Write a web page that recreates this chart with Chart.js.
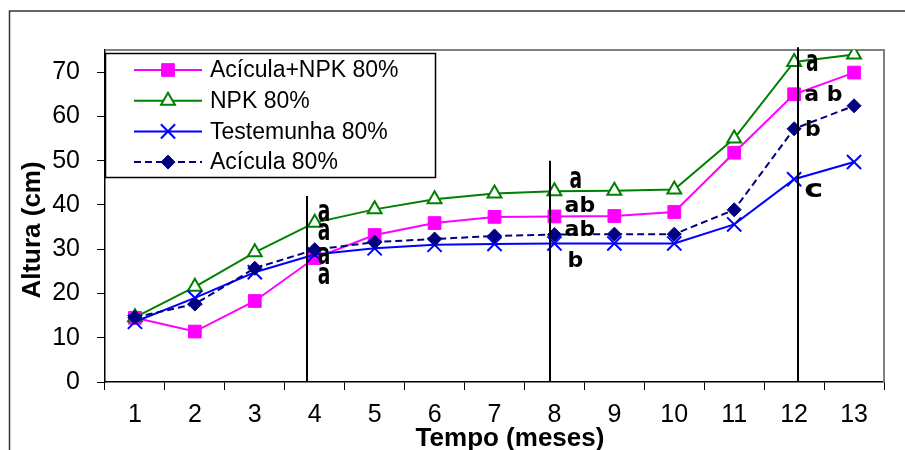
<!DOCTYPE html>
<html>
<head>
<meta charset="utf-8">
<script src="https://cdn.jsdelivr.net/npm/chart.js"></script>
<style>
  html, body { margin: 0; padding: 0; background: #fff; }
</style>
</head>
<body>
<canvas id="line-chart" width="905" height="450"></canvas>
<script>
var meses = ["1", "2", "3", "4", "5", "6", "7", "8", "9", "10", "11", "12", "13"];
var aciculaNpk = [14.5, 11.4, 18.3, 28.0, 33.2, 35.9, 37.3, 37.4, 37.5, 38.4, 51.8, 65.0, 69.9];
var npk = [14.6, 21.5, 29.3, 36.0, 39.0, 41.3, 42.6, 43.1, 43.2, 43.5, 55.0, 72.3, 74.0];
var testemunha = [13.6, 19.0, 24.8, 28.8, 30.2, 31.0, 31.2, 31.3, 31.3, 31.3, 35.6, 45.8, 49.7];
var acicula = [14.6, 17.6, 25.7, 29.9, 31.6, 32.3, 33.0, 33.3, 33.4, 33.4, 38.9, 57.2, 62.4];
var yTicks = [0, 10, 20, 30, 40, 50, 60, 70];

// separation lines and mean comparison letters (position in months / cm)
var linhasMes = [3.87, 7.93, 12.07];
var linhasTopo = [42, 50, 75.6];
var letrasTexto = ["a", "a", "a", "a", "a", "ab", "ab", "b", "a", "a b", "b", "c"];
var letrasMes = [4.05, 4.05, 4.05, 4.05, 8.25, 8.17, 8.17, 8.22, 12.2, 12.17, 12.18, 12.17];
var letrasAltura = [38.3, 34.1, 28.6, 24.2, 45.9, 39.9, 34.6, 27.4, 72.2, 65.0, 57.0, 43.4];

// single "a" letters are drawn narrow and tall, "c" wide
function desenhaLetra(ctx, txt, x, y)
{
	var sx = 1, sy = 1;
	if (txt === 'a') { sx = 0.85; sy = 1.4; }
	if (txt === 'c') { sx = 1.45; sy = 1.1; }
	ctx.save();
	ctx.translate(x, y);
	ctx.scale(sx, sy);
	ctx.fillText(txt, 0, 0);
	ctx.restore();
}

var extras = {
	id: 'extras',
	beforeDraw: function(chart)
	{
		var ctx = chart.ctx;
		ctx.save();
		ctx.fillStyle = '#fff';
		ctx.fillRect(0, 0, chart.width, chart.height);
		ctx.strokeStyle = '#333';
		ctx.lineWidth = 1.5;
		ctx.beginPath();
		ctx.moveTo(9.5, 450);
		ctx.lineTo(9.5, 11);
		ctx.lineTo(905, 11);
		ctx.stroke();
		ctx.restore();
	},
	beforeDatasetsDraw: function(chart)
	{
		var ctx = chart.ctx, a = chart.chartArea;
		ctx.save();
		ctx.strokeStyle = '#808080';
		ctx.lineWidth = 2;
		ctx.beginPath();
		ctx.moveTo(a.left, a.top);
		ctx.lineTo(a.right, a.top);
		ctx.lineTo(a.right, a.bottom);
		ctx.stroke();
		ctx.restore();
	},
	afterDatasetsDraw: function(chart)
	{
		var ctx = chart.ctx, xs = chart.scales.x, ys = chart.scales.y;
		ctx.save();
		ctx.strokeStyle = '#000';
		ctx.lineWidth = 2;
		for (var i = 0; i < linhasMes.length; i++)
		{
			var x = Math.round(xs.getPixelForValue(linhasMes[i] - 1));
			ctx.beginPath();
			ctx.moveTo(x, ys.getPixelForValue(0));
			ctx.lineTo(x, ys.getPixelForValue(linhasTopo[i]));
			ctx.stroke();
		}
		ctx.fillStyle = '#000';
		ctx.font = 'bold 22px "DejaVu Sans"';
		ctx.textAlign = 'left';
		ctx.textBaseline = 'middle';
		for (var j = 0; j < letrasTexto.length; j++)
		{
			desenhaLetra(ctx, letrasTexto[j], xs.getPixelForValue(letrasMes[j] - 1), ys.getPixelForValue(letrasAltura[j]) + 1);
		}
		ctx.restore();
	},
	afterDraw: function(chart)
	{
		var ctx = chart.ctx;
		ctx.save();

		// axis titles
		ctx.fillStyle = '#000';
		ctx.font = 'bold 26px "Liberation Sans", Arial, sans-serif';
		ctx.textAlign = 'center';
		ctx.textBaseline = 'alphabetic';
		ctx.fillText('Tempo (meses)', 510, 446);
		ctx.translate(40, 230);
		ctx.rotate(-Math.PI / 2);
		ctx.fillText('Altura (cm)', 0, 0);
		ctx.setTransform(1, 0, 0, 1, 0, 0);

		// legend box
		ctx.fillStyle = '#fff';
		ctx.fillRect(105.5, 53.5, 330, 124);
		ctx.strokeStyle = '#000';
		ctx.lineWidth = 1.5;
		ctx.strokeRect(105.5, 53.5, 330, 124);

		var sets = chart.data.datasets;
		for (var i = 0; i < sets.length; i++)
		{
			var d = sets[i], y = 70 + i * 30.7;
			ctx.strokeStyle = d.borderColor;
			ctx.lineWidth = d.borderWidth;
			ctx.setLineDash(d.borderDash || []);
			ctx.beginPath();
			ctx.moveTo(134, y);
			ctx.lineTo(202, y);
			ctx.stroke();
			ctx.setLineDash([]);
			ctx.fillStyle = d.pointBackgroundColor;
			ctx.lineWidth = d.pointBorderWidth;
			Chart.helpers.drawPoint(ctx, {pointStyle: d.pointStyle, radius: d.pointRadius, rotation: 0, borderWidth: d.pointBorderWidth}, 168, y);
			ctx.fillStyle = '#000';
			ctx.font = '23px "Liberation Sans", Arial, sans-serif';
			ctx.textAlign = 'left';
			ctx.textBaseline = 'middle';
			ctx.fillText(d.label, 210, y + 1);
		}
		ctx.restore();
	}
};

new Chart(document.getElementById("line-chart"),
{
	type: 'line',
	data:
	{
		labels: meses,
		datasets:
		[{
			label: "Acícula+NPK 80%",
			data: aciculaNpk,
			borderColor: "#FF00FF",
			borderWidth: 2,
			pointStyle: 'rect',
			pointRadius: 9,
			pointBackgroundColor: "#FF00FF",
			pointBorderColor: "#FF00FF",
			pointBorderWidth: 1,
			order: 4
		},
		{
			label: "NPK 80%",
			data: npk,
			borderColor: "#008000",
			borderWidth: 2,
			pointStyle: 'triangle',
			pointRadius: 8,
			pointBackgroundColor: "#fff",
			pointBorderColor: "#008000",
			pointBorderWidth: 2,
			order: 3
		},
		{
			label: "Testemunha 80%",
			data: testemunha,
			borderColor: "#0000FF",
			borderWidth: 2,
			pointStyle: 'crossRot',
			pointRadius: 10,
			pointBackgroundColor: "#0000FF",
			pointBorderColor: "#0000FF",
			pointBorderWidth: 2,
			order: 2
		},
		{
			label: "Acícula 80%",
			data: acicula,
			borderColor: "#000080",
			borderWidth: 2,
			borderDash: [7, 4],
			pointStyle: 'rectRot',
			pointRadius: 7,
			pointBackgroundColor: "#000080",
			pointBorderColor: "#000080",
			pointBorderWidth: 1,
			order: 1
		}]
	},
	options:
	{
		responsive: false,
		animation: false,
		layout: { padding: { left: 0, top: 50, right: 21, bottom: 0 } },
		elements: { line: { tension: 0, fill: false } },
		plugins:
		{
			legend: { display: false },
			tooltip: { enabled: false }
		},
		scales:
		{
			x:
			{
				offset: true,
				grid: { offset: true, drawOnChartArea: false, color: '#000', tickLength: 8 },
				border: { color: '#000', width: 1.5 },
				ticks: { color: '#000', padding: 10, maxRotation: 0, font: { family: '"Liberation Sans", Arial', size: 25 } },
				afterFit: function(scale) { scale.height = 68; scale.paddingLeft = 0; scale.paddingRight = 0; }
			},
			y:
			{
				min: 0,
				max: 75,
				grid: { drawOnChartArea: false, color: '#000', tickLength: 8 },
				border: { color: '#000', width: 1.5 },
				ticks: { color: '#000', padding: 17, font: { family: '"Liberation Sans", Arial', size: 25 } },
				afterBuildTicks: function(scale) { scale.ticks = yTicks.map(function(v) { return { value: v }; }); },
				afterFit: function(scale) { scale.width = 105; scale.paddingTop = 0; scale.paddingBottom = 0; }
			}
		}
	},
	plugins: [extras]
});
</script>
</body>
</html>
